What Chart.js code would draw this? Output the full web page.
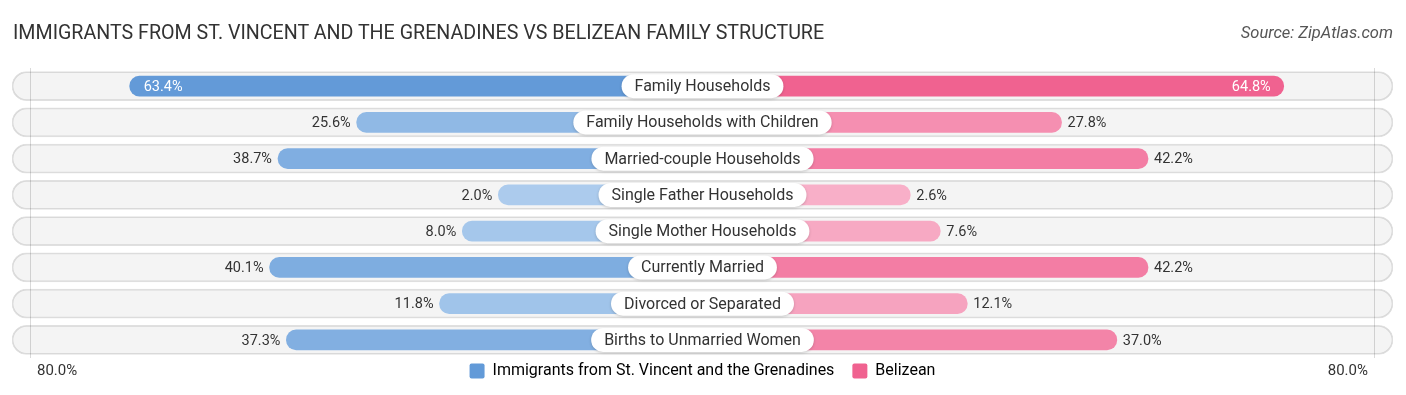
<!DOCTYPE html>
<html>
<head>
<meta charset="utf-8">
<script src="https://cdn.jsdelivr.net/npm/chart.js@4.4.0/dist/chart.umd.min.js"></script>
<style>
  html, body { margin: 0; padding: 0; background: #fff; }
  #wrap { position: relative; width: 1406px; height: 395px; }
  #title { position: absolute; left: 13px; top: 21px; font: 19.65px Roboto, sans-serif; color: #333; }
  #source { position: absolute; right: 13px; top: 23px; font: italic 16.5px Roboto, sans-serif; color: #555; }
  canvas { position: absolute; left: 0; top: 0; }
</style>
</head>
<body>
<div id="wrap">
  <canvas id="chart" width="1406" height="395"></canvas>
  <div id="title">IMMIGRANTS FROM ST. VINCENT AND THE GRENADINES VS BELIZEAN FAMILY STRUCTURE</div>
  <div id="source">Source: ZipAtlas.com</div>
</div>
<script>
// datos
const categories = [
  'Family Households',
  'Family Households with Children',
  'Married-couple Households',
  'Single Father Households',
  'Single Mother Households',
  'Currently Married',
  'Divorced or Separated',
  'Births to Unmarried Women'
];
const immigrants = [63.4, 25.6, 38.7, 2.0, 8.0, 40.1, 11.8, 37.3];
const belizean = [64.8, 27.8, 42.2, 2.6, 7.6, 42.2, 12.1, 37.0];
const seriesNames = ['Immigrants from St. Vincent and the Grenadines', 'Belizean'];
const axisMax = 80;

// ajustes de dibujo
const OFFSET = 32;          // hueco bajo la etiqueta central (unidades de escala)
const LIMIT = axisMax + OFFSET;
const TRACK = LIMIT + 3;

function mix(a, b, t) {
  const r = Math.round(a[0] + (b[0] - a[0]) * t);
  const g = Math.round(a[1] + (b[1] - a[1]) * t);
  const bl = Math.round(a[2] + (b[2] - a[2]) * t);
  return 'rgb(' + r + ',' + g + ',' + bl + ')';
}
const blueLight = [174, 205, 238], blueDark = [98, 154, 216];
const pinkLight = [248, 178, 202], pinkDark = [240, 98, 144];
const blueColors = immigrants.map(v => mix(blueLight, blueDark, Math.min(v / 64, 1)));
const pinkColors = belizean.map(v => mix(pinkLight, pinkDark, Math.min(v / 64, 1)));

const labelsPlugin = {
  id: 'centerLabels',
  afterLayout(chart) {
    // subir la leyenda a la línea de las etiquetas del eje
    chart.legend.top -= 13;
    chart.legend.bottom -= 13;
  },
  afterDatasetsDraw(chart) {
    const ctx = chart.ctx;
    const x = chart.scales.x, y = chart.scales.y;
    const xc = x.getPixelForValue(0);
    ctx.save();
    categories.forEach((cat, i) => {
      const yp = y.getPixelForValue(i);

      // píldora blanca central
      ctx.font = '16px Roboto, sans-serif';
      const w = ctx.measureText(cat).width + 26;
      const h = 24;
      ctx.save();
      ctx.shadowColor = 'rgba(0,0,0,0.18)';
      ctx.shadowBlur = 3;
      ctx.shadowOffsetY = 1;
      ctx.fillStyle = '#fff';
      ctx.beginPath();
      ctx.roundRect(xc - w / 2, yp - h / 2, w, h, h / 2);
      ctx.fill();
      ctx.restore();
      ctx.fillStyle = '#333';
      ctx.textAlign = 'center';
      ctx.textBaseline = 'middle';
      ctx.fillText(cat, xc, yp + 1);

      // valores
      ctx.font = '14.5px Roboto, sans-serif';
      const vl = immigrants[i], vr = belizean[i];
      const xl = x.getPixelForValue(-(OFFSET + vl));
      const xr = x.getPixelForValue(OFFSET + vr);
      if (vl > 50) {
        ctx.fillStyle = '#fff';
        ctx.textAlign = 'left';
        ctx.fillText(vl.toFixed(1) + '%', xl + 14, yp + 1);
      } else {
        ctx.fillStyle = '#333';
        ctx.textAlign = 'right';
        ctx.fillText(vl.toFixed(1) + '%', xl - 6, yp + 1);
      }
      if (vr > 50) {
        ctx.fillStyle = '#fff';
        ctx.textAlign = 'right';
        ctx.fillText(vr.toFixed(1) + '%', xr - 13, yp + 1);
      } else {
        ctx.fillStyle = '#333';
        ctx.textAlign = 'left';
        ctx.fillText(vr.toFixed(1) + '%', xr + 6, yp + 1);
      }
    });

    // etiquetas del eje, a la altura de la leyenda
    const ly = chart.chartArea.bottom + 13;
    ctx.font = '15px Roboto, sans-serif';
    ctx.fillStyle = '#333';
    ctx.textAlign = 'left';
    ctx.fillText(axisMax.toFixed(1) + '%', x.getPixelForValue(-LIMIT) + 7, ly);
    ctx.textAlign = 'right';
    ctx.fillText(axisMax.toFixed(1) + '%', x.getPixelForValue(LIMIT) - 7, ly);
    ctx.restore();
  }
};

new Chart(document.getElementById('chart'), {
  type: 'bar',
  data: {
    labels: categories,
    datasets: [
      {
        label: seriesNames[0],
        data: immigrants.map(v => [-(OFFSET + v), 0]),
        backgroundColor: blueColors,
        barThickness: 20,
        borderRadius: 10,
        borderSkipped: false,
        grouped: false,
        order: 1
      },
      {
        label: seriesNames[1],
        data: belizean.map(v => [0, OFFSET + v]),
        backgroundColor: pinkColors,
        barThickness: 20,
        borderRadius: 10,
        borderSkipped: false,
        grouped: false,
        order: 1
      },
      {
        label: 'track',
        data: categories.map(() => [-TRACK, TRACK]),
        backgroundColor: 'rgba(0,0,0,0.045)',
        borderColor: 'rgba(0,0,0,0.12)',
        borderWidth: 1,
        barThickness: 29,
        borderRadius: 14.5,
        borderSkipped: false,
        grouped: false,
        order: 2
      }
    ]
  },
  options: {
    indexAxis: 'y',
    responsive: false,
    animation: false,
    events: [],
    layout: { padding: { top: 68, left: 12, right: 13, bottom: -7 } },
    plugins: {
      tooltip: { enabled: false },
      legend: {
        position: 'bottom',
        labels: {
          font: { family: 'Roboto, sans-serif', size: 16 },
          color: '#333',
          boxWidth: 15,
          boxHeight: 15,
          padding: 18,
          generateLabels: () => [
            { text: seriesNames[0], fillStyle: mix(blueLight, blueDark, 1), strokeStyle: 'transparent', lineWidth: 0, borderRadius: 2, datasetIndex: 0 },
            { text: seriesNames[1], fillStyle: mix(pinkLight, pinkDark, 1), strokeStyle: 'transparent', lineWidth: 0, borderRadius: 2, datasetIndex: 1 }
          ]
        }
      }
    },
    scales: {
      x: {
        type: 'linear',
        min: -TRACK,
        max: TRACK,
        afterBuildTicks: s => { s.ticks = [{ value: -LIMIT }, { value: LIMIT }]; },
        ticks: { display: false },
        grid: { color: '#dadada', drawTicks: false },
        border: { display: false }
      },
      y: {
        display: false,
        offset: true
      }
    }
  },
  plugins: [labelsPlugin]
});
</script>
</body>
</html>
